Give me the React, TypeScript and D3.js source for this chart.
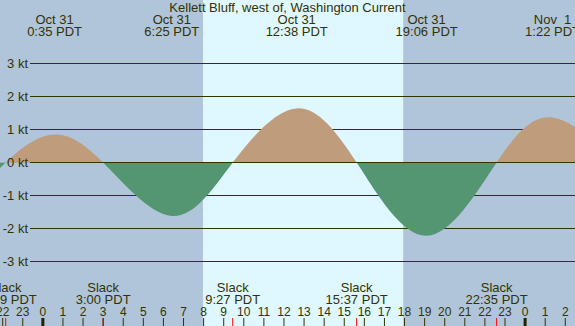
import React from "react";
import * as d3 from "d3";

const title = "Kellett Bluff, west of, Washington Current";

// current events, local PDT clock time; speed in knots (+ flood, - ebb, 0 slack)
const eventTimes = [
  "2023-10-30 15:40",
  "2023-10-30 19:00",
  "2023-10-30 22:09",
  "2023-10-31 00:35",
  "2023-10-31 03:00",
  "2023-10-31 06:25",
  "2023-10-31 09:27",
  "2023-10-31 12:38",
  "2023-10-31 15:37",
  "2023-10-31 19:06",
  "2023-10-31 22:35",
  "2023-11-01 01:22",
  "2023-11-01 04:40",
  "2023-11-01 07:40",
];
const eventSpeeds = [0, -1.4, 0, 0.85, 0, -1.62, 0, 1.64, 0, -2.22, 0, 1.36, 0, -1.5];

const sunTimes = ["2023-10-31 07:58", "2023-10-31 17:56"]; // sunrise, sunset
const viewTimes = ["2023-10-30 21:52", "2023-11-01 02:29"];
const speedTicks = [-3, -2, -1, 0, 1, 2, 3];

const width = 575;
const height = 326;
const font = "'Liberation Sans', Arial, sans-serif";
const ink = "#333300";

const parse = d3.utcParse("%Y-%m-%d %H:%M");

export default function App() {
  const events = eventTimes.map((t, i) => ({ t: parse(t) as Date, v: eventSpeeds[i] }));
  const view = viewTimes.map((t) => parse(t) as Date);
  const [sunrise, sunset] = sunTimes.map((t) => parse(t) as Date);

  const x = d3.scaleUtc().domain(view).range([0, width]);
  const y = d3.scaleLinear().domain([-3, 3]).range([261.5, 63.5]);

  const inView = (d: { t: Date }) => d.t >= view[0] && d.t <= view[1];
  const slacks = events.filter((d) => d.v === 0 && inView(d));
  const peaks = events.filter((d) => d.v !== 0 && inView(d));

  const area = d3
    .area<{ t: Date; v: number }>()
    .x((d) => x(d.t))
    .y0(y(0))
    .y1((d) => y(d.v))
    .curve(d3.curveNatural);
  const path = area(events) || "";

  const hours = x.ticks(d3.utcHour.every(1) as d3.TimeInterval);
  const fmtHour = d3.utcFormat("%-H");
  const fmtDay = d3.utcFormat("%b %e");
  const fmtTime = d3.utcFormat("%-H:%M PDT");

  return (
    <svg
      width={width}
      height={height}
      style={{ position: "absolute", left: 0, top: 0, fontFamily: font }}
    >
      <defs>
        <clipPath id="flood">
          <rect x={0} y={0} width={width} height={y(0)} />
        </clipPath>
        <clipPath id="ebb">
          <rect x={0} y={y(0)} width={width} height={height - y(0)} />
        </clipPath>
      </defs>

      {/* night / day shading */}
      <rect x={0} y={0} width={width} height={height} fill="#b0c4da" />
      <rect x={x(sunrise)} y={0} width={x(sunset) - x(sunrise)} height={height} fill="#dff7ff" />

      {/* grid */}
      {speedTicks
        .filter((s) => s !== 0)
        .map((s) => (
          <line key={s} x1={30} x2={width} y1={y(s)} y2={y(s)} stroke={ink} strokeWidth={1} />
        ))}

      {/* current curve */}
      <path d={path} fill="#bf9c7c" clipPath="url(#flood)" />
      <path d={path} fill="#549672" clipPath="url(#ebb)" />
      <line x1={30} x2={width} y1={y(0)} y2={y(0)} stroke={ink} strokeWidth={1} />

      {/* speed labels */}
      {speedTicks.map((s) => (
        <text key={s} x={28} y={y(s)} dy="0.35em" textAnchor="end" fontSize={13} fill={ink}>
          {s} kt
        </text>
      ))}

      <text x={width / 2} y={12} textAnchor="middle" fontSize={13} fill={ink}>
        {title}
      </text>

      {/* max flood / ebb labels */}
      {peaks.map((d, i) => (
        <g key={i} fontSize={13} fill={ink} textAnchor="middle">
          <text x={x(d.t)} y={24} style={{ whiteSpace: "pre" }}>
            {fmtDay(d.t)}
          </text>
          <text x={x(d.t)} y={36}>
            {fmtTime(d.t)}
          </text>
        </g>
      ))}

      {/* slack labels */}
      {slacks.map((d, i) => (
        <g key={i} fontSize={13} fill={ink} textAnchor="middle">
          <text x={x(d.t)} y={292}>
            Slack
          </text>
          <text x={x(d.t)} y={304}>
            {fmtTime(d.t)}
          </text>
          <line x1={x(d.t)} x2={x(d.t)} y1={318} y2={height} stroke="#ff0000" strokeWidth={1} />
        </g>
      ))}

      {/* hour axis */}
      {hours.map((h, i) => {
        const midnight = h.getUTCHours() === 0;
        return (
          <g key={i}>
            <line
              x1={x(h)}
              x2={x(h)}
              y1={318}
              y2={height}
              stroke={midnight ? "#222200" : ink}
              strokeWidth={midnight ? 3 : 1}
            />
            <text x={x(h)} y={316} textAnchor="middle" fontSize={12} fill={ink}>
              {fmtHour(h)}
            </text>
          </g>
        );
      })}
    </svg>
  );
}
